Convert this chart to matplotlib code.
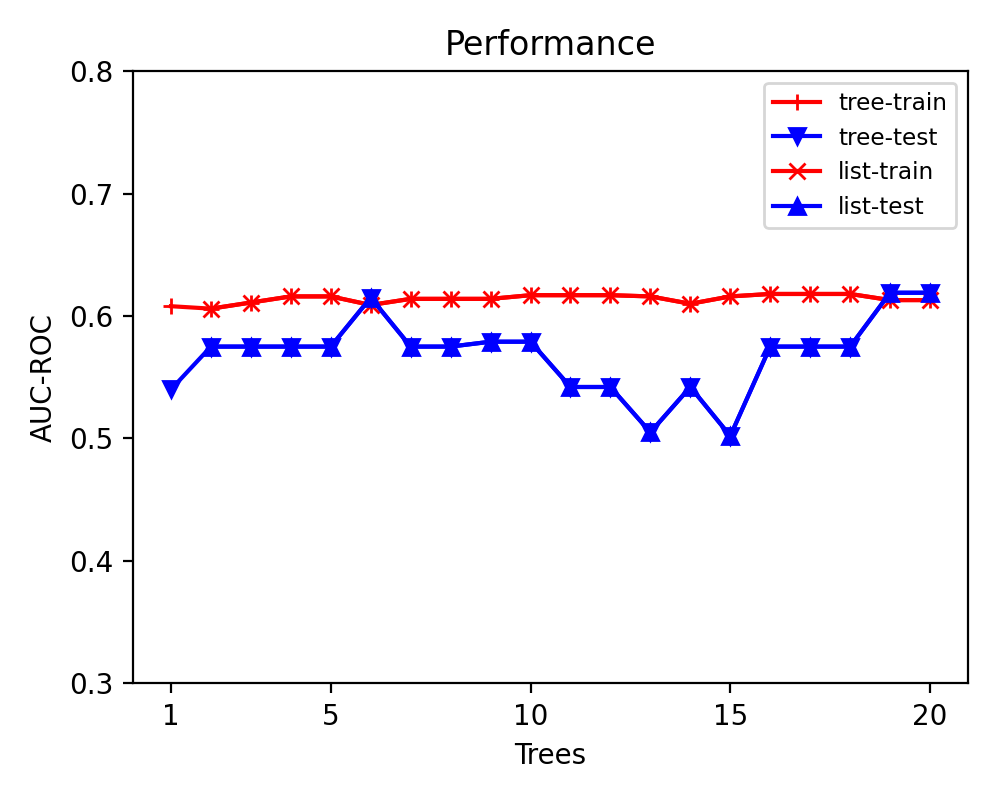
import matplotlib
matplotlib.use('Agg')
import matplotlib.pyplot as plt

# Number of trees on the x axis
trees = list(range(1, 21))
list_trees = list(range(2, 21))

# AUC-ROC values
tree_train = [0.608, 0.606, 0.611, 0.616, 0.616, 0.609, 0.614, 0.614, 0.614, 0.617,
              0.617, 0.617, 0.616, 0.610, 0.616, 0.618, 0.618, 0.618, 0.613, 0.613]
tree_test = [0.540, 0.575, 0.575, 0.575, 0.575, 0.615, 0.575, 0.575, 0.579, 0.579,
             0.542, 0.542, 0.505, 0.542, 0.502, 0.575, 0.575, 0.575, 0.619, 0.619]
# list runs start at 2 trees
list_train = [0.606, 0.611, 0.616, 0.616, 0.609, 0.614, 0.614, 0.614, 0.617,
              0.617, 0.617, 0.616, 0.610, 0.616, 0.618, 0.618, 0.618, 0.613, 0.613]
list_test = [0.575, 0.575, 0.575, 0.575, 0.615, 0.575, 0.575, 0.579, 0.579,
             0.542, 0.542, 0.505, 0.542, 0.502, 0.575, 0.575, 0.575, 0.619, 0.619]

plt.figure(figsize=(5, 4), dpi=200)

plt.plot(trees, tree_train, color='red', marker='+', label='tree-train')
plt.plot(trees, tree_test, color='blue', marker='v', label='tree-test')
plt.plot(list_trees, list_train, color='red', marker='x', label='list-train')
plt.plot(list_trees, list_test, color='blue', marker='^', label='list-test')

plt.ylim(0.3, 0.8)
plt.xticks([1, 5, 10, 15, 20])
plt.title('Performance')
plt.xlabel('Trees')
plt.ylabel('AUC-ROC')
plt.legend(loc='upper right', fontsize='small')

plt.subplots_adjust(left=0.133, right=0.968, top=0.911, bottom=0.146)
plt.savefig('out.png')
